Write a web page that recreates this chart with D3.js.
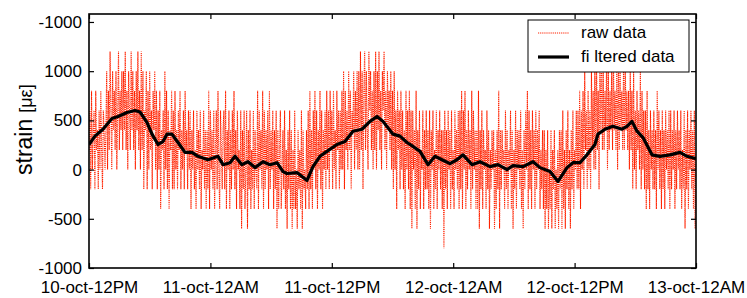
<!DOCTYPE html>
<html><head><meta charset="utf-8">
<script src="https://cdn.jsdelivr.net/npm/d3@7"></script>
<style>body{margin:0;background:#fff} text{font-family:"Liberation Sans",Arial,Helvetica,sans-serif}</style>
</head><body>
<svg id="c" width="747" height="298"></svg>
<script>
// ---- data ----
const yTickValues = [-1000, -500, 0, 500, 1000, 1500];
const yTickLabels = ["-1000", "-500", "0", "500", "1000", "-1000"];
const xTickHours = [0, 12, 24, 36, 48, 60];
const xTickLabels = ["10-oct-12PM", "11-oct-12AM", "11-oct-12PM", "12-oct-12AM", "12-oct-12PM", "13-oct-12AM"];
const rawIntervalMin = 5; // raw samples every 5 minutes, starting 10-oct 12PM
const rawValues = [
  200,600,-200,800,0,400,600,-200,800,200,400,-200,600,0,800,200,-200,600,400,0,
  400,1000,0,800,200,1200,600,0,1000,400,800,200,1000,0,600,1200,200,800,400,1000,
  200,1000,400,1200,200,800,0,1000,600,200,1200,400,1000,200,800,0,1000,400,1200,200,
  800,0,1200,200,1000,-200,600,400,1000,-200,800,0,1000,200,600,-200,800,400,1000,0,
  800,-200,600,0,800,-400,400,200,600,-200,1000,0,800,-200,600,-400,400,200,800,-200,
  600,-200,800,0,400,-200,600,200,800,-200,400,0,600,-200,800,200,400,-200,600,0,
  600,-400,400,0,600,-200,200,-400,600,0,400,-200,600,-400,200,0,600,-200,400,-400,
  400,-200,800,-400,600,0,400,-200,600,-400,200,600,-200,800,0,-400,600,200,-200,400,
  600,-200,800,-400,400,0,600,-400,400,-200,600,0,800,-200,400,-400,600,0,200,-400,
  600,-600,400,-200,600,-400,0,600,-600,400,-200,600,-400,200,-200,600,-400,400,0,-200,
  800,-400,600,0,400,-200,800,-400,600,-200,400,0,600,-400,800,-200,400,0,600,-400,
  400,-200,600,-600,400,-400,200,600,-400,0,400,-200,600,-400,200,-600,400,-200,600,-400,
  400,-600,200,-400,600,-400,0,-600,400,-200,200,-400,600,-600,400,-200,0,-400,400,-200,
  600,-400,800,-200,400,-400,600,0,800,-200,600,-400,400,0,800,-200,600,-400,400,0,
  600,-200,800,0,600,-200,800,200,600,-200,800,0,400,-200,800,200,600,-200,600,0,
  800,0,1000,-200,800,200,600,0,1000,200,800,-200,600,400,1000,0,800,200,1000,0,
  1000,0,1200,200,1000,-200,800,1200,200,1000,400,0,1200,600,1000,200,800,0,1000,200,
  1200,0,1000,400,1200,200,800,0,1000,600,1200,200,800,0,1000,400,800,200,1000,0,
  800,-200,1000,0,600,-400,800,200,600,-200,800,0,600,-200,400,-400,800,0,600,-200,
  800,-400,600,-600,600,0,400,-400,800,-600,400,-200,600,-400,200,0,600,-400,400,-200,
  600,-200,400,-400,600,-600,400,0,600,-400,200,-200,600,-400,400,0,600,-200,400,-400,
  400,-800,600,-200,400,-400,600,0,400,-400,600,-200,200,-400,600,0,400,-200,600,-400,
  600,-200,800,-400,600,0,800,-400,400,-200,600,0,400,-400,800,-200,600,0,400,-400,
  400,-400,800,-600,400,-200,600,-400,400,0,200,-400,600,-200,400,-600,200,-200,400,0,
  400,-600,200,-400,400,-200,800,-600,400,-200,400,0,200,-400,600,-200,400,-400,200,0,
  600,-400,400,-600,200,-200,600,-400,400,0,400,-200,600,-400,200,-600,400,-200,600,0,
  800,-400,600,-200,400,-400,600,0,400,-400,600,-200,400,0,600,-400,200,-200,400,-400,
  400,-600,200,-400,400,-600,0,-400,400,-600,200,-200,400,-600,0,-400,200,-600,400,-200,
  400,-600,600,-400,200,-600,400,-200,600,-400,200,-600,400,-200,600,-400,200,0,600,-200,
  600,-200,800,-400,600,0,800,-200,1000,200,600,-200,800,0,600,-200,1000,200,800,0,
  1000,0,1200,200,800,-200,1000,400,1200,200,1000,200,800,400,1200,0,1000,200,800,400,
  1000,200,1200,400,800,200,1000,0,1200,200,1000,400,800,200,1000,200,1200,400,800,200,
  800,0,1000,200,800,-200,1000,0,600,-200,800,200,600,0,1000,-200,800,0,600,-200,
  600,-400,800,-200,400,-400,600,0,400,-200,600,-200,400,-400,800,0,600,-200,400,-400,
  600,-200,400,-400,600,0,400,-200,600,-400,600,-200,400,0,600,-400,400,-200,600,0,
  400,-200,600,-400,200,-200,600,-600,400,-200,600,-400,400,0,600,-200,400,-400,600,-600,
  200
];
const filteredHours = [
  0,0.59,1.38,2.27,2.87,3.76,4.55,5.04,5.73,6.23,6.82,7.31,7.71,8.20,8.80,9.49,10.18,10.77,11.76,12.75,
  13.25,13.94,14.43,15.12,15.72,16.41,17.20,17.89,18.58,19.18,19.57,20.56,21.55,22.14,22.83,23.52,24.51,25.30,26.10,26.98,
  27.78,28.47,29.06,30.05,30.74,31.43,32.03,32.72,33.51,34.20,34.89,35.68,36.37,36.97,37.86,38.65,39.64,40.43,41.32,41.91,
  42.90,43.89,44.58,45.57,46.36,47.25,47.84,48.53,49.22,50.01,50.31,51.00,51.79,52.68,53.18,53.67,54.17,54.76,55.65,56.44,
  57.43,58.42,59.11,60
];
const filteredValues = [
  255,340,410,520,540,580,600,585,480,360,255,285,360,360,275,175,175,135,100,135,
  50,70,135,50,80,20,80,50,70,-20,-40,-30,-110,30,135,185,255,285,390,410,
  490,540,490,360,340,275,235,185,50,135,100,60,100,150,50,80,30,50,0,40,
  30,80,20,-20,-120,20,70,70,150,255,360,410,440,410,440,490,390,325,150,135,
  150,175,135,110
];
const legendLabels = ["raw data", "fi ltered data"];
const yLabelParts = ["strain", "[με]"];

// ---- drawing ----
const svg = d3.select("#c");
const m = {l: 89, r: 696, t: 14, b: 268};
const x = d3.scaleLinear().domain([0, 60]).range([m.l, m.r]);
const y = d3.scaleLinear().domain([-1000, 1581]).range([m.b, m.t]);
const FS = 17;

svg.append("clipPath").attr("id", "clip").append("rect")
  .attr("x", m.l).attr("y", m.t).attr("width", m.r - m.l).attr("height", m.b - m.t);

const rawData = rawValues.map((v, i) => [i * rawIntervalMin / 60, v]);
const line = d3.line().x(d => x(d[0])).y(d => y(d[1]));
const red = "#ff2200";

svg.append("path").attr("clip-path", "url(#clip)")
  .attr("d", line(rawData)).attr("fill", "none")
  .attr("stroke", red).attr("stroke-width", 1.1).attr("stroke-dasharray", "1.2,0.9");

const filt = filteredHours.map((h, i) => [h, filteredValues[i]]);
svg.append("path").attr("clip-path", "url(#clip)")
  .attr("d", line(filt)).attr("fill", "none")
  .attr("stroke", "#000").attr("stroke-width", 3.2).attr("stroke-linejoin", "round");

// axes
const styleAxis = g => { g.select(".domain").remove(); g.selectAll("line").attr("stroke", "#000").attr("stroke-width", 1.2); g.selectAll("text").attr("font-size", FS).attr("fill", "#000").attr("font-family", '"Liberation Sans",Arial,sans-serif'); };

svg.append("g").attr("transform", `translate(${m.l},0)`)
  .call(d3.axisLeft(y).tickValues(yTickValues).tickSize(-5).tickPadding(7)
    .tickFormat((d, i) => yTickLabels[i]))
  .call(styleAxis);
svg.append("g").attr("transform", `translate(${m.r},0)`)
  .call(d3.axisRight(y).tickValues(yTickValues).tickSize(-5).tickFormat(""))
  .call(styleAxis);
svg.append("g").attr("transform", `translate(0,${m.b})`)
  .call(d3.axisBottom(x).tickValues(xTickHours).tickSize(-5).tickPadding(13)
    .tickFormat((d, i) => xTickLabels[i]))
  .call(styleAxis);
svg.append("g").attr("transform", `translate(0,${m.t})`)
  .call(d3.axisTop(x).tickValues(xTickHours).tickSize(-5).tickFormat(""))
  .call(styleAxis);

svg.append("rect").attr("x", m.l).attr("y", m.t).attr("width", m.r - m.l).attr("height", m.b - m.t)
  .attr("fill", "none").attr("stroke", "#000").attr("stroke-width", 1.6);

// y label
const yl = svg.append("text").attr("transform", `translate(32,175) rotate(-90)`)
  .attr("text-anchor", "start");
yl.append("tspan").attr("font-size", 23).text(yLabelParts[0]);
yl.append("tspan").attr("dx", 6).attr("font-size", 18).text(yLabelParts[1]);

// legend
const lg = svg.append("g");
lg.append("rect").attr("x", 528).attr("y", 20).attr("width", 161).attr("height", 52)
  .attr("fill", "#fff").attr("stroke", "#000").attr("stroke-width", 1);
lg.append("line").attr("x1", 538).attr("x2", 569).attr("y1", 33).attr("y2", 33)
  .attr("stroke", red).attr("stroke-width", 1).attr("stroke-dasharray", "1.2,0.9");
lg.append("line").attr("x1", 538).attr("x2", 569).attr("y1", 57).attr("y2", 57)
  .attr("stroke", "#000").attr("stroke-width", 3.2);
lg.selectAll("text.lg").data(legendLabels).join("text").attr("class", "lg")
  .attr("x", 581).attr("y", (d, i) => 38 + i * 24).attr("font-size", FS).text(d => d);
</script>
</body></html>
